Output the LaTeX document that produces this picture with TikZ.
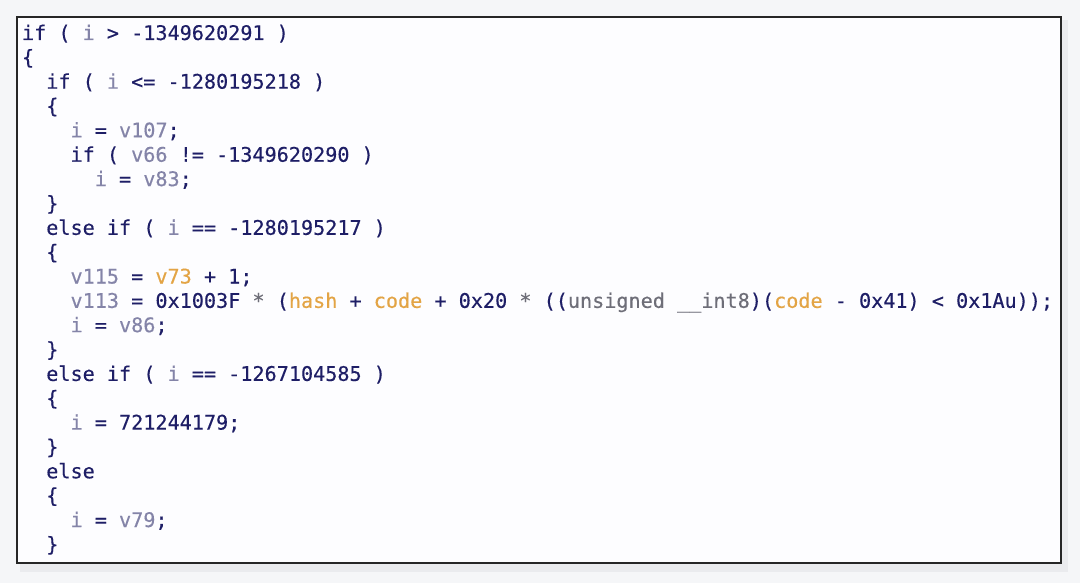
\documentclass[tikz,border=0pt]{standalone}
\usepackage{fontspec}
\newfontfamily\codefont[FakeBold=0.35]{DejaVu Sans Mono}
\definecolor{kw}{HTML}{1E1E66}
\definecolor{var}{HTML}{8484A8}
\definecolor{glob}{HTML}{E3A445}
\definecolor{cast}{HTML}{6E6E78}
\definecolor{bgc}{HTML}{F5F6F8}
\definecolor{boxc}{HTML}{FDFDFF}
\definecolor{shadowc}{HTML}{EAEBEE}
\newcommand{\V}[1]{\textcolor{var}{#1}}
\newcommand{\G}[1]{\textcolor{glob}{#1}}
\newcommand{\C}[1]{\textcolor{cast}{#1}}
\tikzset{
  codeline/.style={anchor=base west, inner sep=0pt, outer sep=0pt,
    font=\codefont\fontsize{20.15}{24}\selectfont, text=kw},
  frame/.style={draw=black!85, line width=1.6pt, fill=boxc}
}
\begin{document}
\begin{tikzpicture}[x=1pt,y=-1pt]
\useasboundingbox (0,0) rectangle (1080,583);
\fill[bgc] (0,0) rectangle (1080,583);
\fill[shadowc] (20,20) rectangle (1068,572);
\node[frame, minimum width=1044pt, minimum height=546pt, anchor=north west, inner sep=0pt] (box) at (16,16) {};
\def\cw{12.13}
\def\lh{24.35}
\node[codeline] (l1) at (22+0*\cw, 40+0*\lh) {if ( \V{i} > -1349620291 )};
\node[codeline] (l2) at (22+0*\cw, 40+1*\lh) {\{};
\node[codeline] (l3) at (22+2*\cw, 40+2*\lh) {if ( \V{i} <= -1280195218 )};
\node[codeline] (l4) at (22+2*\cw, 40+3*\lh) {\{};
\node[codeline] (l5) at (22+4*\cw, 40+4*\lh) {\V{i} = \V{v107};};
\node[codeline] (l6) at (22+4*\cw, 40+5*\lh) {if ( \V{v66} != -1349620290 )};
\node[codeline] (l7) at (22+6*\cw, 40+6*\lh) {\V{i} = \V{v83};};
\node[codeline] (l8) at (22+2*\cw, 40+7*\lh) {\}};
\node[codeline] (l9) at (22+2*\cw, 40+8*\lh) {else if ( \V{i} == -1280195217 )};
\node[codeline] (l10) at (22+2*\cw, 40+9*\lh) {\{};
\node[codeline] (l11) at (22+4*\cw, 40+10*\lh) {\V{v115} = \G{v73} + 1;};
\node[codeline] (l12) at (22+4*\cw, 40+11*\lh) {\V{v113} = 0x1003F \C{*} (\G{hash} + \G{code} + 0x20 \C{*} ((\C{unsigned \_\_int8})(\G{code} - 0x41) < 0x1Au));};
\node[codeline] (l13) at (22+4*\cw, 40+12*\lh) {\V{i} = \V{v86};};
\node[codeline] (l14) at (22+2*\cw, 40+13*\lh) {\}};
\node[codeline] (l15) at (22+2*\cw, 40+14*\lh) {else if ( \V{i} == -1267104585 )};
\node[codeline] (l16) at (22+2*\cw, 40+15*\lh) {\{};
\node[codeline] (l17) at (22+4*\cw, 40+16*\lh) {\V{i} = 721244179;};
\node[codeline] (l18) at (22+2*\cw, 40+17*\lh) {\}};
\node[codeline] (l19) at (22+2*\cw, 40+18*\lh) {else};
\node[codeline] (l20) at (22+2*\cw, 40+19*\lh) {\{};
\node[codeline] (l21) at (22+4*\cw, 40+20*\lh) {\V{i} = \V{v79};};
\node[codeline] (l22) at (22+2*\cw, 40+21*\lh) {\}};
\end{tikzpicture}
\end{document}
